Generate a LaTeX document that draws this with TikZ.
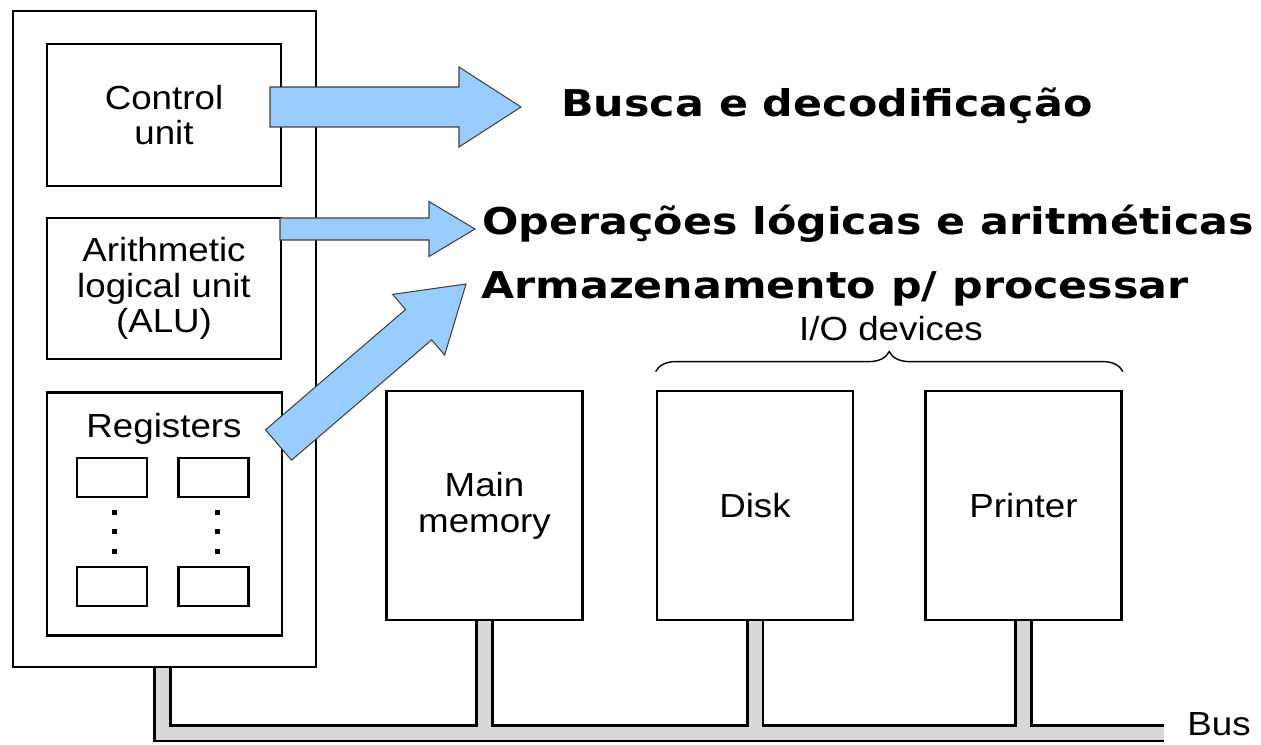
\documentclass[tikz,border=0pt]{standalone}
\usepackage{fontspec}
\setmainfont{Liberation Sans}[FakeStretch=1.1]
\newfontfamily\headfont{DejaVu Sans}[FakeStretch=1.16]
\usetikzlibrary{calc,decorations.pathreplacing,backgrounds}

\definecolor{arrowblue}{RGB}{153,204,255}
\definecolor{busgray}{RGB}{216,216,216}

\def\px{0.02cm}
% block arrow: (tail)(tip)(body half width:head half width:head length)
\def\blockarrow(#1)(#2)(#3:#4:#5){
	\coordinate (head) at ($(#2)!#5!(#1)$);
	\draw[blockarrow] ($(#1)!#3!90:(#2)$) -- ($(head)!#3!90:(#2)$) -- ($(head)!#4!90:(#2)$) -- (#2)
		-- ($(head)!#4!-90:(#2)$) -- ($(head)!#3!-90:(#2)$) -- ($(#1)!#3!-90:(#2)$) -- cycle;}

\begin{document}
\begin{tikzpicture}[x=0.02cm, y=-0.02cm,
		unitbox/.style={draw, line width=1.6pt, fill=white, inner sep=0pt, align=center, font=\fontsize{19}{20.4}\selectfont},
		devbox/.style={unitbox, minimum width=196*\px, minimum height=229*\px},
		regbox/.style={draw, line width=1.6pt, inner sep=0pt, minimum width=70*\px, minimum height=39*\px},
		textlabel/.style={inner sep=0pt, align=center, font=\fontsize{19}{20.4}\selectfont},
		tasklabel/.style={inner sep=0pt, anchor=base west, font=\headfont\bfseries\fontsize{21}{24}\selectfont},
		blockarrow/.style={fill=arrowblue, draw=black!75, line width=0.6pt},
		iobrace/.style={decorate, decoration={brace, amplitude=0.4cm}, line width=0.8pt}]
		\useasboundingbox (0,0) rectangle (1261,744);
		%%%%% CPU %%%%%
		\node[unitbox, minimum width=303*\px, minimum height=656*\px] (cpu) at (164.5,339) {};
		\node[unitbox, minimum width=234*\px, minimum height=142*\px] (ctrl) at (164,115) {Control\\unit};
		\node[unitbox, minimum width=234*\px, minimum height=141*\px] (alu) at (164,288.5) {Arithmetic\\logical unit\\(ALU)};
		\node[unitbox, minimum width=235*\px, minimum height=243*\px] (regs) at (164.5,514) {};
		\node[textlabel, anchor=base] (regslabel) at (164,437) {Registers};
		
		\foreach \name/\x/\y in {rtl/112/477.5, rtr/213.5/477.5, rbl/112/586.5, rbr/213.5/586.5}
			\node[regbox] (\name) at (\x,\y) {};
		\foreach \x in {114,217}
			\foreach \y in {512,531.5,551}
				\fill (\x,\y) ++(-2.5,-2.5) rectangle ++(5,5);
		
		%%%%% DEVICES %%%%%
		\node[devbox] (mem) at (484.5,505.5) {Main\\memory};
		\node[devbox] (disk) at (755,505.5) {Disk};
		\node[devbox] (prn) at (1023.5,505.5) {Printer};
		
		\draw[iobrace] ([yshift=0.36cm]disk.north west) -- ([yshift=0.36cm]prn.north east);
		\node[textlabel, anchor=base] (iolabel) at (891,340) {I/O devices};
		
		%%%%% BUS %%%%%
		\coordinate (busend) at (1164,733);
		\begin{scope}[on background layer]
			\foreach \w/\c in {10.8pt/black, 7.4pt/busgray} {
				\draw[line width=\w, draw=\c] ([xshift=-2*\px]cpu.south) |- (busend);
				\foreach \dev in {mem, disk, prn}
					\draw[line width=\w, draw=\c] (\dev.south) -- (\dev.south |- busend);
			}
		\end{scope}
		\node[textlabel, anchor=west] (buslabel) at (1187,724) {Bus};
		
		%%%%% TASKS %%%%%
		\node[tasklabel] (fetch) at (561,116) {Busca e decodificação};
		\node[tasklabel] (aluop) at (482,234) {Operações lógicas e aritméticas};
		\node[tasklabel] (store) at (481,298) {Armazenamento p/ processar};
		
		\coordinate (ctrltail) at (270,107);
		\coordinate (ctrltip) at (521,107);
		\coordinate (alutail) at (280,229);
		\coordinate (alutip) at (475,229);
		\coordinate (regtail) at (278.5,445);
		\coordinate (regtip) at (466,284);
		\blockarrow(ctrltail)(ctrltip)(0.4cm:0.8cm:1.24cm)
		\blockarrow(alutail)(alutip)(0.22cm:0.55cm:0.92cm)
		\blockarrow(regtail)(regtip)(0.4cm:0.8cm:1.25cm)
	\end{tikzpicture}
\end{document}
